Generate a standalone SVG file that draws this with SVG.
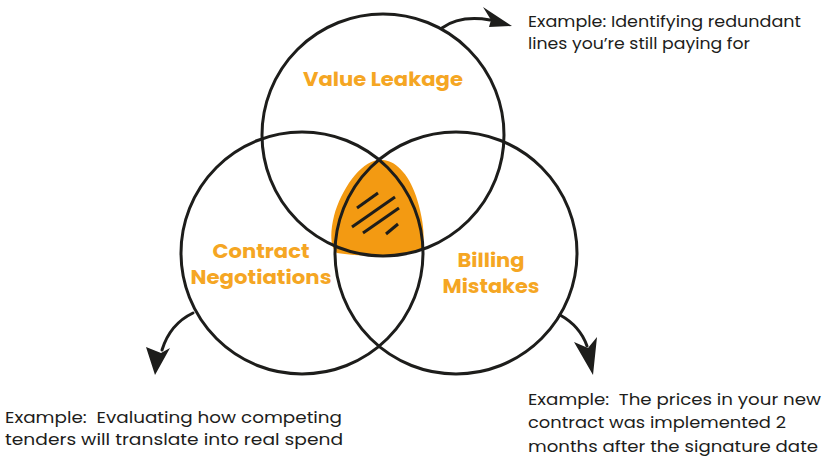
<svg xmlns="http://www.w3.org/2000/svg" width="829" height="460" viewBox="0 0 829 460">
  <style>
    .circle { fill: none; stroke: #1d1d1b; stroke-width: 3; }
    .conn { fill: none; stroke: #1d1d1b; stroke-width: 3; stroke-linecap: round; }
    .head { fill: #1d1d1b; stroke: none; }
    .hatch { stroke: #1d1d1b; stroke-width: 3; stroke-linecap: butt; }
    .title { font-family: "Poppins", "Open Sans", "Liberation Sans", sans-serif; font-weight: 700; font-size: 19.5px; fill: #F5A623; text-anchor: middle; }
    .note { font-family: "Poppins", "Open Sans", "Liberation Sans", sans-serif; font-weight: 400; font-size: 16.5px; fill: #1d1d1b; white-space: pre; }
  </style>
  <rect width="829" height="460" fill="#ffffff"/>

  <g id="center-overlap">
    <path d="M 378 160 C 393 158 408 172 416 196 C 422 214 426 236 422 249 C 408 257 360 257 337 253 C 330 248 330 232 334 216 C 341 190 360 162 378 160 Z" fill="#F39A12"/>
    <line class="hatch" x1="357" y1="208" x2="378" y2="193"/>
    <line class="hatch" x1="352" y1="227" x2="395" y2="197"/>
    <line class="hatch" x1="363" y1="233" x2="399" y2="208"/>
    <line class="hatch" x1="386" y1="234" x2="398" y2="224"/>
  </g>

  <g id="value-leakage">
    <circle class="circle" cx="383" cy="135" r="121"/>
    <text class="title" x="383" y="86" textLength="160" lengthAdjust="spacingAndGlyphs">Value Leakage</text>
  </g>

  <g id="contract-negotiations">
    <circle class="circle" cx="302" cy="253" r="121"/>
    <text class="title" x="261" y="258" textLength="97" lengthAdjust="spacingAndGlyphs">Contract</text>
    <text class="title" x="261" y="284" textLength="141" lengthAdjust="spacingAndGlyphs">Negotiations</text>
  </g>

  <g id="billing-mistakes">
    <circle class="circle" cx="456" cy="253" r="121"/>
    <text class="title" x="491" y="267" textLength="67" lengthAdjust="spacingAndGlyphs">Billing</text>
    <text class="title" x="491" y="293" textLength="97" lengthAdjust="spacingAndGlyphs">Mistakes</text>
  </g>

  <g id="connectors">
    <path class="conn" d="M 442 28 Q 460 15 490 20"/>
    <path class="head" d="M 483 7 L 512 26 L 489 27 L 491 20 Z"/>
    <path class="conn" d="M 193 313 Q 170 324 162 350"/>
    <path class="head" d="M 146 347 L 161 353 L 170 348 L 155 375 Z"/>
    <path class="conn" d="M 560 315 Q 580 326 587 346"/>
    <path class="head" d="M 574 342 L 588 348 L 597 337 L 593 375 Z"/>
  </g>

  <g id="example-top">
    <text class="note" x="528" y="27" textLength="273" lengthAdjust="spacingAndGlyphs">Example: Identifying redundant</text>
    <text class="note" x="528" y="49" textLength="222" lengthAdjust="spacingAndGlyphs">lines you’re still paying for</text>
  </g>

  <g id="example-left">
    <text class="note" x="5" y="423" textLength="337" lengthAdjust="spacingAndGlyphs">Example:  Evaluating how competing</text>
    <text class="note" x="5" y="445" textLength="338" lengthAdjust="spacingAndGlyphs">tenders will translate into real spend</text>
  </g>

  <g id="example-right">
    <text class="note" x="528" y="405" textLength="293" lengthAdjust="spacingAndGlyphs">Example:  The prices in your new</text>
    <text class="note" x="528" y="428" textLength="258" lengthAdjust="spacingAndGlyphs">contract was implemented 2</text>
    <text class="note" x="528" y="452" textLength="290" lengthAdjust="spacingAndGlyphs">months after the signature date</text>
  </g>
</svg>
